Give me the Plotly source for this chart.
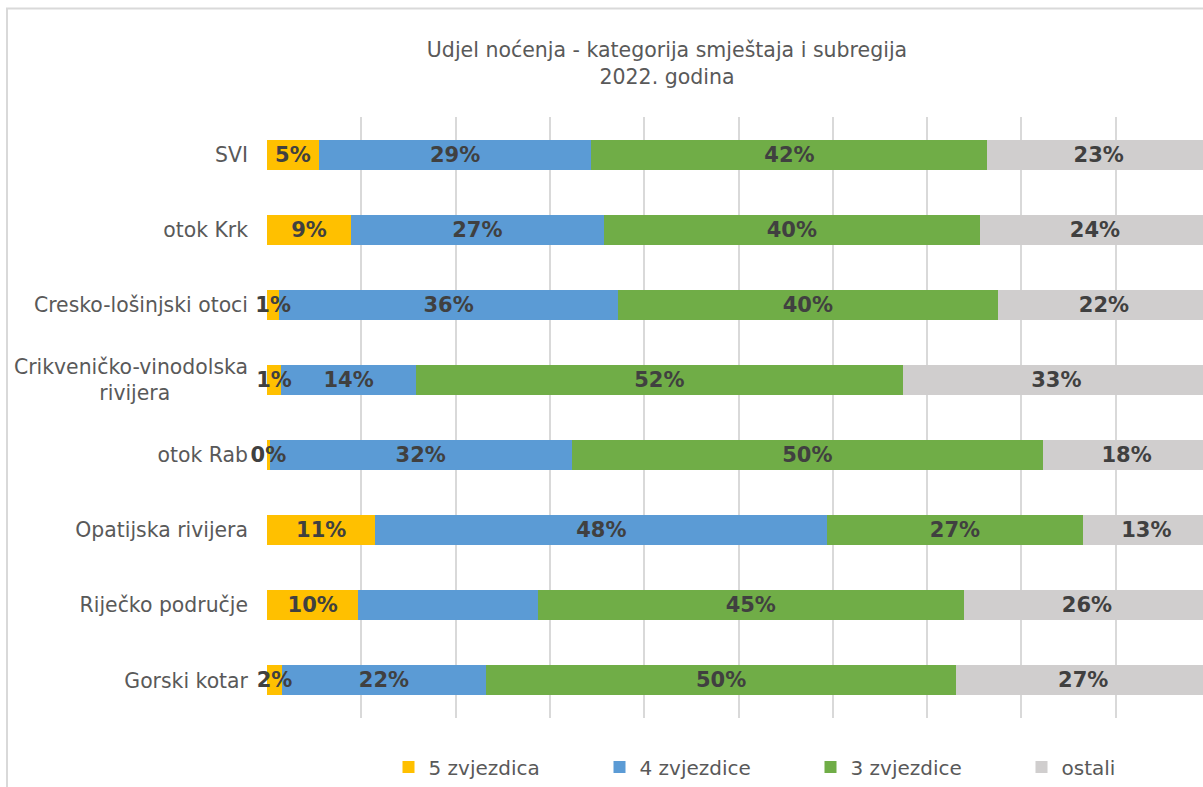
import plotly.graph_objects as go

CATEGORIES = [
    "SVI",
    "otok Krk",
    "Cresko-lošinjski otoci",
    "Crikveničko-vinodolska<br>rivijera" + "&nbsp;" * 12,
    "otok Rab",
    "Opatijska rivijera",
    "Riječko područje",
    "Gorski kotar",
]
SERIES = ["5 zvjezdica", "4 zvjezdice", "3 zvjezdice", "ostali"]

five_star = [5.5, 8.9, 1.3, 1.5, 0.3, 11.5, 9.7, 1.6]
four_star = [28.9, 26.8, 35.9, 14.3, 32.0, 47.9, 19.0, 21.6]
three_star = [42.0, 39.9, 40.3, 51.6, 50.0, 27.1, 45.2, 49.9]
other = [23.6, 24.4, 22.5, 32.6, 17.7, 13.5, 26.1, 26.9]

five_lbl = ["5%", "9%", "1%", "1%", "0%", "11%", "10%", "2%"]
four_lbl = ["29%", "27%", "36%", "14%", "32%", "48%", "", "22%"]
three_lbl = ["42%", "40%", "40%", "52%", "50%", "27%", "45%", "50%"]
other_lbl = ["23%", "24%", "22%", "33%", "18%", "13%", "26%", "27%"]

COLORS = ["#FFC000", "#5B9BD5", "#70AD47", "#D0CECE"]
FONT = "DejaVu Sans, Verdana, sans-serif"
W, H = 1210, 787
L, T, B = 267, 117, 69

values = [five_star, four_star, three_star, other]
labels = [five_lbl, four_lbl, three_lbl, other_lbl]

fig = go.Figure()
# coloured bars
for name, vals, col in zip(SERIES, values, COLORS):
    fig.add_trace(go.Bar(
        y=CATEGORIES, x=vals, name=name, orientation="h",
        marker=dict(color=col, line=dict(width=0)),
        hoverinfo="skip",
    ))
# labels on a second, overlaid axis so they sit above every bar
for vals, lbls in zip(values, labels):
    fig.add_trace(go.Bar(
        y=CATEGORIES, x=vals, orientation="h", xaxis="x2", showlegend=False,
        marker=dict(color="rgba(0,0,0,0)", line=dict(width=0)),
        text=lbls, textposition="inside", insidetextanchor="middle",
        textangle=0, constraintext="none", cliponaxis=False,
        textfont=dict(family=FONT, size=21, color="#404040", weight="bold"),
        hoverinfo="skip",
    ))

fig.update_layout(
    barmode="stack",
    bargap=0.6,
    width=W, height=H,
    margin=dict(l=L, r=0, t=T, b=B, autoexpand=False),
    paper_bgcolor="white", plot_bgcolor="white",
    font=dict(family=FONT, color="#595959", size=20),
    title=dict(text="Udjel noćenja - kategorija smještaja i subregija<br>2022. godina",
               x=667 / W, xanchor="center", y=1 - 57 / H, yanchor="middle",
               font=dict(size=20.5, color="#595959")),
    xaxis=dict(range=[0, 100], dtick=10, showticklabels=False,
               showgrid=True, gridcolor="#D9D9D9", gridwidth=1.5,
               zeroline=False, showline=False, fixedrange=True),
    xaxis2=dict(range=[0, 100], overlaying="x", visible=False, showgrid=False),
    yaxis=dict(categoryorder="array", categoryarray=CATEGORIES, autorange="reversed",
               showgrid=False, showline=False, ticks="", ticklabelstandoff=18,
               tickfont=dict(size=20.4, color="#595959")),
    legend=dict(orientation="h", x=(810.5 - L) / (W - L), xanchor="center",
                y=-(767 - (H - B)) / (H - T - B), yanchor="middle",
                entrywidth=166, entrywidthmode="pixels", traceorder="normal",
                font=dict(size=20, color="#595959")),
    showlegend=True,
    shapes=[dict(type="rect", xref="paper", yref="paper",
                 x0=(7 - L) / (W - L), x1=1.02, y0=-0.2, y1=((H - B) - 8.5) / (H - T - B),
                 line=dict(color="#D9D9D9", width=2), layer="below")],
)

fig.write_html("out.html", config={"displayModeBar": False}, post_script=(
    "document.body.style.margin='0';"
    "document.body.style.overflow='hidden';"
    "document.documentElement.style.overflow='hidden';"
))
